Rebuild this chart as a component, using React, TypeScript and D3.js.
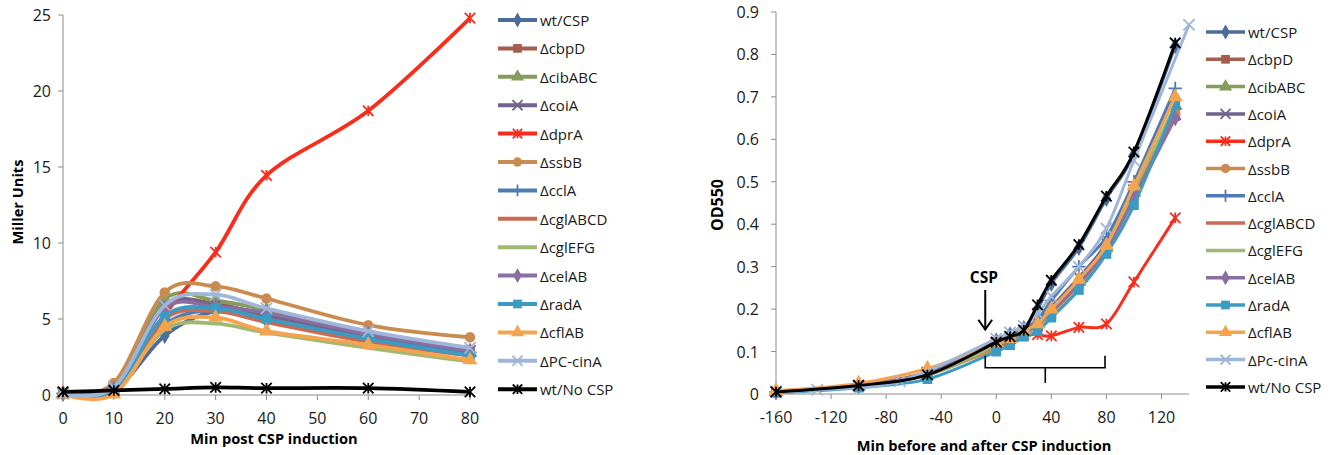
import * as d3 from 'd3';

// ---- left panel: beta-galactosidase after CSP ----
const minPost = [0, 10, 20, 30, 40, 60, 80];
const muWtCsp = [0.1, 0.3, 3.9, 5.5, 4.9, 3.6, 2.7];
const muCbpD = [0.1, 0.4, 5.8, 6.0, 5.2, 3.8, 2.8];
const muCibABC = [0.1, 0.5, 6.3, 6.2, 5.6, 4.0, 2.8];
const muCoiA = [0.1, 0.4, 5.9, 5.9, 5.3, 3.9, 2.9];
const muDprA = [0.2, 0.3, 5.3, 9.4, 14.45, 18.7, 24.8];
const muSsbB = [0.1, 0.8, 6.75, 7.15, 6.35, 4.6, 3.8];
const muCclA = [0.1, 0.4, 4.6, 5.6, 5.0, 3.7, 2.8];
const muCglABCD = [0.1, 0.3, 5.0, 5.5, 4.8, 3.5, 2.6];
const muCglEFG = [0.1, 0.3, 4.3, 4.7, 4.1, 3.1, 2.2];
const muCelAB = [0.1, 0.4, 5.7, 5.8, 5.4, 4.0, 2.9];
const muRadA = [0.1, 0.4, 5.2, 5.7, 5.0, 3.7, 2.6];
const muCflAB = [0.05, 0.05, 4.5, 5.1, 4.2, 3.3, 2.3];
const muPcCinA = [0.1, 0.5, 5.9, 6.6, 5.7, 4.2, 3.1];
const muNoCsp = [0.2, 0.3, 0.4, 0.5, 0.45, 0.45, 0.2];

// ---- right panel: growth (OD550) ----
const minAround = [-160, -100, -50, 0, 10, 20, 30, 40, 60, 80, 100, 130];
const minAroundPc = [-160, -130, -70, 0, 10, 20, 30, 40, 60, 80, 100, 140];
const odWtCsp = [0.005, 0.02, 0.05, 0.125, 0.14, 0.155, 0.2, 0.26, 0.345, 0.46, 0.565, 0.82];
const odCbpD = [0.005, 0.02, 0.045, 0.11, 0.125, 0.14, 0.16, 0.19, 0.26, 0.34, 0.47, 0.655];
const odCibABC = [0.005, 0.02, 0.045, 0.115, 0.13, 0.145, 0.165, 0.2, 0.265, 0.345, 0.475, 0.68];
const odCoiA = [0.005, 0.02, 0.05, 0.12, 0.135, 0.15, 0.17, 0.205, 0.275, 0.355, 0.48, 0.66];
const odDprA = [0.005, 0.02, 0.05, 0.12, 0.13, 0.14, 0.14, 0.137, 0.157, 0.165, 0.264, 0.415];
const odSsbB = [0.005, 0.02, 0.05, 0.105, 0.12, 0.14, 0.16, 0.19, 0.255, 0.34, 0.46, 0.66];
const odCclA = [0.005, 0.02, 0.05, 0.125, 0.14, 0.155, 0.175, 0.22, 0.3, 0.37, 0.5, 0.72];
const odCglABCD = [0.005, 0.02, 0.05, 0.115, 0.13, 0.145, 0.165, 0.195, 0.26, 0.345, 0.47, 0.66];
const odCglEFG = [0.005, 0.02, 0.045, 0.115, 0.13, 0.145, 0.165, 0.2, 0.265, 0.35, 0.48, 0.68];
const odCelAB = [0.005, 0.02, 0.05, 0.12, 0.13, 0.145, 0.165, 0.195, 0.26, 0.34, 0.46, 0.65];
const odRadA = [0.003, 0.015, 0.035, 0.1, 0.115, 0.135, 0.148, 0.18, 0.245, 0.33, 0.445, 0.68];
const odCflAB = [0.008, 0.025, 0.06, 0.12, 0.13, 0.15, 0.165, 0.2, 0.27, 0.35, 0.49, 0.7];
const odPcCinA = [0.005, 0.01, 0.03, 0.13, 0.145, 0.16, 0.19, 0.23, 0.3, 0.39, 0.55, 0.87];
const odNoCsp = [0.005, 0.02, 0.045, 0.122, 0.135, 0.15, 0.21, 0.268, 0.352, 0.466, 0.57, 0.827];

const namesLeft = ['wt/CSP', 'ΔcbpD', 'ΔcibABC', 'ΔcoiA', 'ΔdprA', 'ΔssbB', 'ΔcclA', 'ΔcglABCD', 'ΔcglEFG', 'ΔcelAB', 'ΔradA', 'ΔcflAB', 'ΔPC-cinA', 'wt/No CSP'];
const namesRight = ['wt/CSP', 'ΔcbpD', 'ΔcibABC', 'ΔcoiA', 'ΔdprA', 'ΔssbB', 'ΔcclA', 'ΔcglABCD', 'ΔcglEFG', 'ΔcelAB', 'ΔradA', 'ΔcflAB', 'ΔPc-cinA', 'wt/No CSP'];
const yTicksLeft = [0, 5, 10, 15, 20, 25];
const xTicksLeft = [0, 10, 20, 30, 40, 50, 60, 70, 80];
const yTicksRight = [0, 0.1, 0.2, 0.3, 0.4, 0.5, 0.6, 0.7, 0.8, 0.9];
const xTicksRight = [-160, -120, -80, -40, 0, 40, 80, 120];

const colors = ['#4a6d9c', '#a65d4e', '#849d5c', '#71628f', '#fa2d1c', '#c98b4f', '#4f7bb5', '#c96a52', '#a0b872', '#8a6fa2', '#3b9bc2', '#f4a44e', '#a0b6d8', '#000000'];
const markers = ['diamond', 'square', 'triangle', 'x', 'asterisk', 'circle', 'plus', 'none', 'none', 'diamond', 'square', 'triangle', 'x', 'asterisk'];

const leftVals = [muWtCsp, muCbpD, muCibABC, muCoiA, muDprA, muSsbB, muCclA, muCglABCD, muCglEFG, muCelAB, muRadA, muCflAB, muPcCinA, muNoCsp];
const rightVals = [odWtCsp, odCbpD, odCibABC, odCoiA, odDprA, odSsbB, odCclA, odCglABCD, odCglEFG, odCelAB, odRadA, odCflAB, odPcCinA, odNoCsp];

const FONT = '"Open Sans", Calibri, sans-serif';
const AXIS = '#8c8c8c';

// Excel style star: an x with a vertical bar through it
const starSymbol = {
  draw(ctx, size) {
    const r = Math.sqrt(size) * 0.5;
    ctx.moveTo(-r, -r);
    ctx.lineTo(r, r);
    ctx.moveTo(-r, r);
    ctx.lineTo(r, -r);
    ctx.moveTo(0, -r);
    ctx.lineTo(0, r);
  },
};

const symbolPath = (kind, size) => {
  const types = {
    diamond: d3.symbolDiamond,
    square: d3.symbolSquare,
    triangle: d3.symbolTriangle,
    circle: d3.symbolCircle,
    x: d3.symbolX,
    asterisk: starSymbol,
    plus: d3.symbolPlus,
  };
  return d3.symbol().type(types[kind]).size(size)();
};

const Marker = ({ kind, x, y, color, scale = 1 }) => {
  if (kind === 'none') return null;
  const stroked = kind === 'x' || kind === 'asterisk' || kind === 'plus';
  const size = { diamond: 80, square: 95, triangle: 95, circle: 85, x: 85, asterisk: 110, plus: 60 }[kind] * scale;
  return (
    <path
      d={symbolPath(kind, size)}
      transform={`translate(${x},${y})`}
      fill={stroked ? 'none' : color}
      stroke={color}
      strokeWidth={stroked ? 1.8 : 0}
    />
  );
};

const Legend = ({ names, x0, y0, step, lineW }) => (
  <g fontFamily={FONT} fontSize={15} fill="#1a1a1a">
    {names.map((n, i) => {
      const y = y0 + i * step;
      return (
        <g key={n}>
          <line x1={x0} x2={x0 + 39} y1={y} y2={y} stroke={colors[i]} strokeWidth={lineW} />
          <Marker kind={markers[i]} x={x0 + 19.5} y={y} color={colors[i]} scale={0.8} />
          <text x={x0 + 42} y={y} dominantBaseline="central">{n}</text>
        </g>
      );
    })}
  </g>
);

const Panel = ({ xs, vals, xScale, yScale, xTicks, yTicks, yFmt, lineW, curve }) => {
  const [x0, x1] = xScale.range();
  const [yb, yt] = yScale.range();
  return (
    <g>
      <line x1={x0} x2={x0} y1={yb} y2={yt} stroke={AXIS} />
      {yTicks.map((t) => (
        <line key={'yt' + t} x1={x0 - 5} x2={x0} y1={yScale(t)} y2={yScale(t)} stroke={AXIS} />
      ))}
      <line x1={x0} x2={x1} y1={yb} y2={yb} stroke={AXIS} />
      {xTicks.map((t) => (
        <line key={'xt' + t} x1={xScale(t)} x2={xScale(t)} y1={yb} y2={yb + 5} stroke={AXIS} />
      ))}
      {vals.map((v, i) => {
        const xv = xs[i];
        const line = d3
          .line()
          .curve(curve)
          .x((d, j) => xScale(xv[j]))
          .y((d) => yScale(d));
        return (
          <g key={i}>
            <path d={line(v)} fill="none" stroke={colors[i]} strokeWidth={lineW} strokeLinejoin="round" />
            {v.map((d, j) => (
              <Marker key={j} kind={markers[i]} x={xScale(xv[j])} y={yScale(d)} color={colors[i]} />
            ))}
          </g>
        );
      })}
      <g fontFamily={FONT} fontSize={16} fill="#1a1a1a">
        {yTicks.map((t) => (
          <text key={'yl' + t} x={x0 - yFmt.gap} y={yScale(t)} textAnchor="end" dominantBaseline="central">
            {yFmt.f(t)}
          </text>
        ))}
        {xTicks.map((t) => (
          <text key={'xl' + t} x={xScale(t)} y={yb + 23} textAnchor="middle" dominantBaseline="central">
            {t}
          </text>
        ))}
      </g>
    </g>
  );
};

export default function App() {
  const xL = d3.scaleLinear().domain([0, 80]).range([63, 470]);
  const yL = d3.scaleLinear().domain([0, 25]).range([395, 15]);
  const xR = d3.scaleLinear().domain([-160, 140]).range([776, 1189]);
  const yR = d3.scaleLinear().domain([0, 0.9]).range([394, 12]);
  const smooth = d3.curveCardinal.tension(0);

  return (
    <svg
      width={1331}
      height={455}
      style={{ position: 'absolute', left: 0, top: 0, background: '#fff' }}
    >
      <Panel
        xs={leftVals.map(() => minPost)}
        vals={leftVals}
        xScale={xL}
        yScale={yL}
        xTicks={xTicksLeft}
        yTicks={yTicksLeft}
        yFmt={{ gap: 12, f: (t) => String(t) }}
        lineW={3.8}
        curve={smooth}
      />
      <text x={274} y={438} textAnchor="middle" dominantBaseline="central" fontFamily={FONT} fontWeight="bold" fontSize={14.6}>
        Min post CSP induction
      </text>
      <text transform="translate(17,202) rotate(-90)" textAnchor="middle" dominantBaseline="central" fontFamily={FONT} fontWeight="bold" fontSize={14.6}>
        Miller Units
      </text>
      <Legend names={namesLeft} x0={498} y0={20} step={28.4} lineW={4} />

      <Panel
        xs={rightVals.map((v, i) => (i === 12 ? minAroundPc : minAround))}
        vals={rightVals}
        xScale={xR}
        yScale={yR}
        xTicks={xTicksRight}
        yTicks={yTicksRight}
        yFmt={{ gap: 17, f: (t) => (t === 0 ? '0' : d3.format('.1f')(t)) }}
        lineW={3}
        curve={smooth}
      />
      <text x={984} y={445} textAnchor="middle" dominantBaseline="central" fontFamily={FONT} fontWeight="bold" fontSize={14.6}>
        Min before and after CSP induction
      </text>
      <text transform="translate(717,205) rotate(-90)" textAnchor="middle" dominantBaseline="central" fontFamily={FONT} fontWeight="bold" fontSize={16}>
        OD550
      </text>
      {/* CSP addition arrow and the bracket under the lag */}
      <text x={xR(-9)} y={yR(0.276)} textAnchor="middle" dominantBaseline="central" fontFamily={FONT} fontWeight="bold" fontSize={15.5}>
        CSP
      </text>
      <g stroke="#000" strokeWidth={2} fill="none">
        <line x1={xR(-8)} x2={xR(-8)} y1={yR(0.245)} y2={yR(0.152)} />
        <path d={`M${xR(-13)},${yR(0.175)}L${xR(-8)},${yR(0.152)}L${xR(-3)},${yR(0.175)}`} />
        <path d={`M${xR(-8)},${yR(0.09)}V${yR(0.062)}H${xR(79)}V${yR(0.09)}`} strokeWidth={1.6} />
        <line x1={xR(35.6)} x2={xR(35.6)} y1={yR(0.062)} y2={yR(0.026)} strokeWidth={1.6} />
      </g>
      <Legend names={namesRight} x0={1206} y0={32} step={27.3} lineW={3.5} />
    </svg>
  );
}
